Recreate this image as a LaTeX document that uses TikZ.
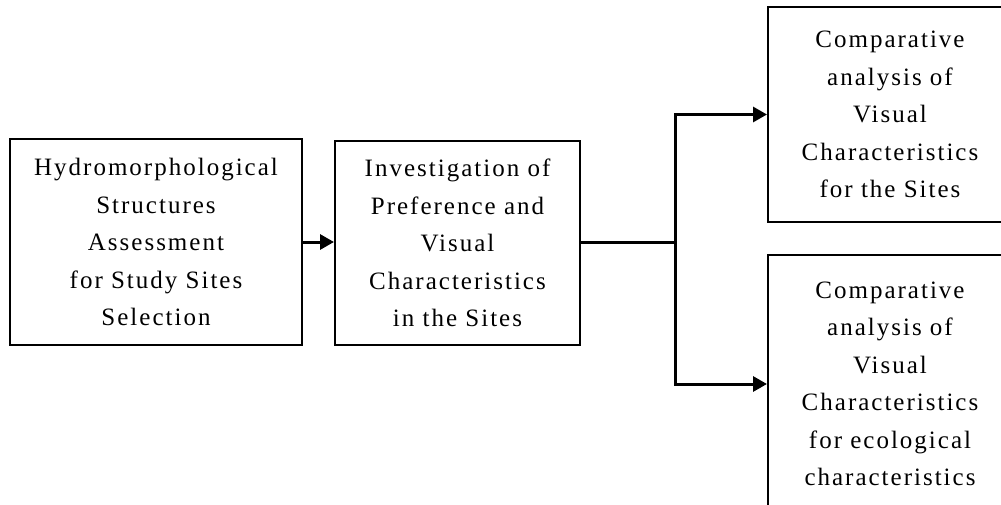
\documentclass[tikz,border=0pt]{standalone}
\usepackage{fontspec}
\setmainfont{Liberation Serif}[LetterSpace=8]
\usetikzlibrary{arrows.meta}
\tikzset{
  box/.style={draw, line width=2pt, rectangle, align=center, inner sep=0pt,
    font=\fontsize{25}{37.5}\selectfont},
  conn/.style={line width=3pt, -{Triangle[length=14pt,width=15pt]}},
  plain/.style={line width=3pt}
}
\begin{document}
\begin{tikzpicture}[x=1pt,y=-1pt]
\useasboundingbox (0,0) rectangle (1001,505);
\clip (0,0) rectangle (1001,505);
\node[box, minimum width=292pt, minimum height=205pt] (b1) at (156,242)
  {Hydromorphological\\Structures\\Assessment\\for Study Sites\\Selection};
\node[box, minimum width=245pt, minimum height=203pt] (b2) at (457.5,243)
  {Investigation of\\Preference and\\Visual\\Characteristics\\in the Sites};
\node[box, minimum width=244pt, minimum height=215pt] (b3) at (890,114.5)
  {Comparative\\analysis of\\Visual\\Characteristics\\for the Sites};
\node[box, minimum width=244pt, minimum height=258pt] (b4) at (890,384)
  {Comparative\\analysis of\\Visual\\Characteristics\\for ecological\\characteristics};
\coordinate (j) at (675,242);
\draw[conn] (b1.east) -- (b2.west |- b1.east);
\draw[plain] (b2.east |- j) -- (j);
\draw[conn] (j) |- (b3.west);
\draw[conn] (j) |- (b4.west);
\end{tikzpicture}
\end{document}
